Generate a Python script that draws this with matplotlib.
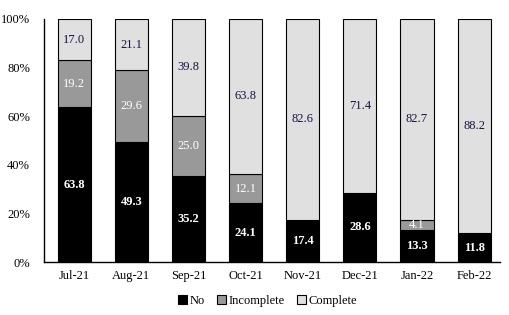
import numpy as np
from matplotlib import pyplot as plt

months = ["Jul-21", "Aug-21", "Sep-21", "Oct-21", "Nov-21", "Dec-21", "Jan-22", "Feb-22"]
no_vals = [63.8, 49.3, 35.2, 24.1, 17.4, 28.6, 13.3, 11.8]
incomplete_vals = [19.2, 29.6, 25.0, 12.1, 0.0, 0.0, 4.1, 0.0]
complete_vals = [17.0, 21.1, 39.8, 63.8, 82.6, 71.4, 82.7, 88.2]

plt.rcParams["font.family"] = ["Liberation Serif", "DejaVu Serif"]

fig = plt.figure(figsize=(5.1, 3.15), dpi=100)
ax = fig.add_axes([0.086, 0.168, 0.894, 0.772])

x = np.arange(len(months))
no = np.array(no_vals)
inc = np.array(incomplete_vals)
comp = np.array(complete_vals)
w = 0.58

ax.bar(x, no, w, color="black", edgecolor="black", lw=0.8, label="No")
ax.bar(x, inc, w, bottom=no, color="#999999", edgecolor="black", lw=0.8, label="Incomplete")
ax.bar(x, comp, w, bottom=no + inc, color="#e0e0e0", edgecolor="black", lw=0.8, label="Complete")

for i in range(len(months)):
    ax.text(x[i], no[i] / 2, f"{no[i]:.1f}", ha="center", va="center",
            color="white", fontsize=9, fontweight="bold")
    if inc[i] > 0:
        ax.text(x[i], no[i] + inc[i] / 2, f"{inc[i]:.1f}", ha="center", va="center",
                color="white", fontsize=9)
    ax.text(x[i], no[i] + inc[i] + comp[i] / 2, f"{comp[i]:.1f}", ha="center", va="center",
            color="#141440", fontsize=9)

ax.set_xlim(-0.53, 7.45)
ax.set_ylim(0, 100)
ax.set_yticks(np.arange(0, 101, 20))
ax.set_yticklabels([f"{v}%" for v in range(0, 101, 20)])
ax.set_xticks(x)
ax.set_xticklabels(months)
ax.tick_params(axis="both", length=0, labelsize=9, pad=6)
ax.tick_params(axis="y", pad=10)
for s in ["top", "right"]:
    ax.spines[s].set_visible(False)
ax.spines["left"].set_linewidth(1.0)
ax.spines["bottom"].set_linewidth(1.0)

ax.legend(loc="upper center", bbox_to_anchor=(0.49, -0.09), ncol=3, frameon=False,
          fontsize=9, handlelength=0.7, handleheight=0.7, handletextpad=0.2, columnspacing=1.0)

plt.savefig("out.png", dpi=100)
